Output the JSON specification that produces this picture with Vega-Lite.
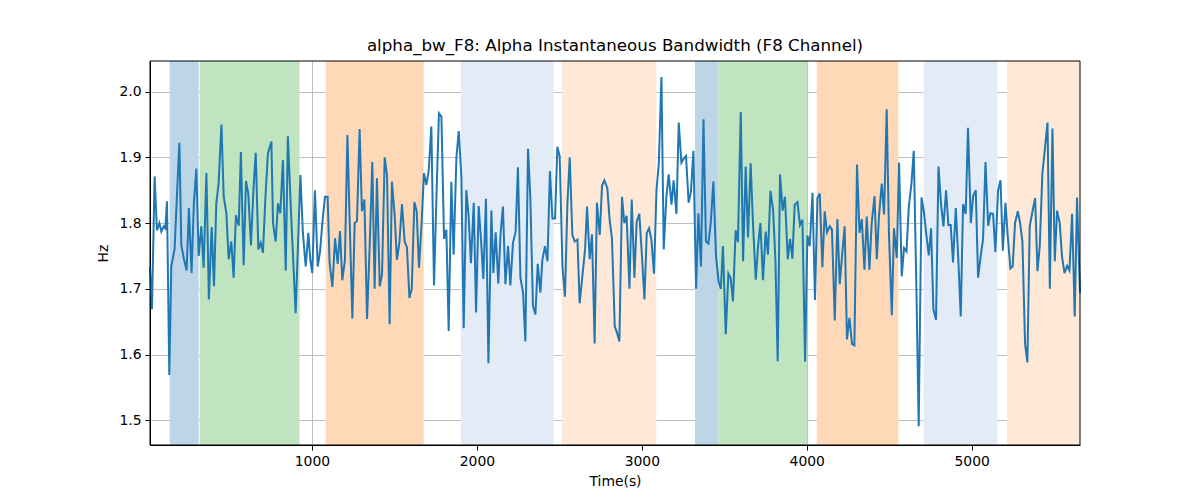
{
  "$schema": "https://vega.github.io/schema/vega-lite/v6.json",
  "autosize": "none",
  "width": 930,
  "height": 384,
  "padding": {"left": 150, "top": 61, "right": 120, "bottom": 55},
  "background": "white",
  "title": {"text": "alpha_bw_F8: Alpha Instantaneous Bandwidth (F8 Channel)", "font": "DejaVu Sans", "fontSize": 16.7, "fontWeight": "normal", "color": "black", "anchor": "middle", "baseline": "alphabetic", "offset": -7},
  "config": {
    "view": {"stroke": null},
    "axis": {"zindex": 1, "grid": true, "gridColor": "#b0b0b0", "gridWidth": 0.8, "tickSize": 5, "tickColor": "black", "domainColor": "black", "labelFont": "DejaVu Sans", "labelFontSize": 13.9, "labelColor": "black", "labelPadding": 4, "titleFont": "DejaVu Sans", "titleFontSize": 13.9, "titleFontWeight": "normal", "titleColor": "black"}
  },
  "datasets": {
    "bands": [
      {"start": 137, "end": 313, "kind": "blue"},
      {"start": 319, "end": 925, "kind": "green"},
      {"start": 1083, "end": 1677, "kind": "orange"},
      {"start": 1902, "end": 2466, "kind": "lightblue"},
      {"start": 2514, "end": 3088, "kind": "lightorange"},
      {"start": 3323, "end": 3465, "kind": "blue"},
      {"start": 3465, "end": 4002, "kind": "green"},
      {"start": 4061, "end": 4556, "kind": "orange"},
      {"start": 4709, "end": 5156, "kind": "lightblue"},
      {"start": 5215, "end": 5657, "kind": "lightorange"}
    ],
    "series": [
      {"time":18,"hz":1.734},{"time":30,"hz":1.669},{"time":46,"hz":1.871},{"time":60,"hz":1.789},{"time":75,"hz":1.80},{"time":87,"hz":1.787},{"time":101,"hz":1.795},{"time":111,"hz":1.792},{"time":121,"hz":1.833},{"time":135,"hz":1.569},{"time":147,"hz":1.734},{"time":167,"hz":1.760},{"time":181,"hz":1.84},{"time":196,"hz":1.922},{"time":208,"hz":1.766},{"time":224,"hz":1.745},{"time":240,"hz":1.728},{"time":254,"hz":1.823},{"time":270,"hz":1.724},{"time":284,"hz":1.83},{"time":299,"hz":1.883},{"time":313,"hz":1.75},{"time":329,"hz":1.795},{"time":343,"hz":1.732},{"time":360,"hz":1.876},{"time":375,"hz":1.684},{"time":392,"hz":1.794},{"time":406,"hz":1.704},{"time":420,"hz":1.83},{"time":434,"hz":1.86},{"time":451,"hz":1.95},{"time":465,"hz":1.84},{"time":481,"hz":1.815},{"time":495,"hz":1.745},{"time":511,"hz":1.772},{"time":525,"hz":1.717},{"time":539,"hz":1.812},{"time":556,"hz":1.796},{"time":569,"hz":1.908},{"time":586,"hz":1.736},{"time":600,"hz":1.864},{"time":614,"hz":1.845},{"time":630,"hz":1.766},{"time":645,"hz":1.85},{"time":659,"hz":1.907},{"time":675,"hz":1.76},{"time":689,"hz":1.77},{"time":703,"hz":1.755},{"time":718,"hz":1.84},{"time":733,"hz":1.906},{"time":754,"hz":1.924},{"time":764,"hz":1.80},{"time":780,"hz":1.772},{"time":794,"hz":1.83},{"time":808,"hz":1.815},{"time":824,"hz":1.896},{"time":841,"hz":1.728},{"time":854,"hz":1.932},{"time":875,"hz":1.805},{"time":901,"hz":1.663},{"time":930,"hz":1.873},{"time":945,"hz":1.785},{"time":962,"hz":1.734},{"time":978,"hz":1.785},{"time":990,"hz":1.744},{"time":1002,"hz":1.724},{"time":1018,"hz":1.85},{"time":1035,"hz":1.734},{"time":1049,"hz":1.757},{"time":1063,"hz":1.80},{"time":1079,"hz":1.84},{"time":1095,"hz":1.84},{"time":1107,"hz":1.739},{"time":1124,"hz":1.703},{"time":1140,"hz":1.777},{"time":1156,"hz":1.738},{"time":1170,"hz":1.788},{"time":1184,"hz":1.713},{"time":1200,"hz":1.744},{"time":1215,"hz":1.934},{"time":1229,"hz":1.80},{"time":1245,"hz":1.655},{"time":1259,"hz":1.80},{"time":1273,"hz":1.803},{"time":1289,"hz":1.943},{"time":1303,"hz":1.818},{"time":1318,"hz":1.836},{"time":1334,"hz":1.654},{"time":1350,"hz":1.765},{"time":1366,"hz":1.893},{"time":1380,"hz":1.70},{"time":1394,"hz":1.868},{"time":1411,"hz":1.704},{"time":1425,"hz":1.722},{"time":1441,"hz":1.90},{"time":1455,"hz":1.873},{"time":1471,"hz":1.646},{"time":1485,"hz":1.863},{"time":1502,"hz":1.81},{"time":1515,"hz":1.744},{"time":1530,"hz":1.77},{"time":1546,"hz":1.829},{"time":1562,"hz":1.772},{"time":1576,"hz":1.763},{"time":1591,"hz":1.686},{"time":1605,"hz":1.70},{"time":1621,"hz":1.832},{"time":1635,"hz":1.818},{"time":1649,"hz":1.732},{"time":1665,"hz":1.80},{"time":1679,"hz":1.876},{"time":1694,"hz":1.858},{"time":1708,"hz":1.88},{"time":1724,"hz":1.947},{"time":1740,"hz":1.705},{"time":1756,"hz":1.85},{"time":1770,"hz":1.967},{"time":1785,"hz":1.962},{"time":1801,"hz":1.776},{"time":1815,"hz":1.79},{"time":1829,"hz":1.636},{"time":1845,"hz":1.863},{"time":1859,"hz":1.752},{"time":1876,"hz":1.90},{"time":1890,"hz":1.94},{"time":1906,"hz":1.87},{"time":1920,"hz":1.64},{"time":1936,"hz":1.85},{"time":1950,"hz":1.81},{"time":1964,"hz":1.739},{"time":1981,"hz":1.831},{"time":1995,"hz":1.664},{"time":2011,"hz":1.826},{"time":2025,"hz":1.775},{"time":2039,"hz":1.715},{"time":2055,"hz":1.837},{"time":2070,"hz":1.587},{"time":2088,"hz":1.819},{"time":2100,"hz":1.724},{"time":2114,"hz":1.786},{"time":2130,"hz":1.708},{"time":2144,"hz":1.785},{"time":2158,"hz":1.825},{"time":2173,"hz":1.707},{"time":2189,"hz":1.765},{"time":2203,"hz":1.705},{"time":2219,"hz":1.77},{"time":2235,"hz":1.787},{"time":2249,"hz":1.885},{"time":2264,"hz":1.717},{"time":2280,"hz":1.694},{"time":2294,"hz":1.62},{"time":2310,"hz":1.913},{"time":2324,"hz":1.84},{"time":2340,"hz":1.674},{"time":2355,"hz":1.661},{"time":2369,"hz":1.738},{"time":2385,"hz":1.694},{"time":2397,"hz":1.744},{"time":2413,"hz":1.765},{"time":2428,"hz":1.742},{"time":2443,"hz":1.879},{"time":2458,"hz":1.807},{"time":2474,"hz":1.807},{"time":2488,"hz":1.916},{"time":2502,"hz":1.902},{"time":2519,"hz":1.734},{"time":2534,"hz":1.688},{"time":2549,"hz":1.83},{"time":2563,"hz":1.90},{"time":2579,"hz":1.782},{"time":2593,"hz":1.772},{"time":2610,"hz":1.775},{"time":2623,"hz":1.678},{"time":2640,"hz":1.72},{"time":2656,"hz":1.76},{"time":2668,"hz":1.825},{"time":2684,"hz":1.745},{"time":2698,"hz":1.783},{"time":2714,"hz":1.617},{"time":2728,"hz":1.831},{"time":2745,"hz":1.782},{"time":2759,"hz":1.857},{"time":2773,"hz":1.865},{"time":2791,"hz":1.853},{"time":2805,"hz":1.805},{"time":2819,"hz":1.777},{"time":2836,"hz":1.643},{"time":2850,"hz":1.633},{"time":2864,"hz":1.62},{"time":2880,"hz":1.84},{"time":2894,"hz":1.80},{"time":2908,"hz":1.811},{"time":2925,"hz":1.70},{"time":2939,"hz":1.836},{"time":2955,"hz":1.717},{"time":2969,"hz":1.802},{"time":2985,"hz":1.814},{"time":3001,"hz":1.75},{"time":3016,"hz":1.684},{"time":3030,"hz":1.785},{"time":3044,"hz":1.792},{"time":3058,"hz":1.775},{"time":3074,"hz":1.723},{"time":3089,"hz":1.85},{"time":3103,"hz":1.89},{"time":3119,"hz":2.022},{"time":3133,"hz":1.76},{"time":3149,"hz":1.84},{"time":3163,"hz":1.874},{"time":3180,"hz":1.828},{"time":3193,"hz":1.865},{"time":3210,"hz":1.814},{"time":3224,"hz":1.953},{"time":3240,"hz":1.892},{"time":3254,"hz":1.898},{"time":3268,"hz":1.902},{"time":3284,"hz":1.831},{"time":3298,"hz":1.848},{"time":3313,"hz":1.91},{"time":3329,"hz":1.70},{"time":3343,"hz":1.815},{"time":3359,"hz":1.734},{"time":3374,"hz":1.958},{"time":3389,"hz":1.772},{"time":3404,"hz":1.769},{"time":3418,"hz":1.80},{"time":3434,"hz":1.863},{"time":3450,"hz":1.75},{"time":3465,"hz":1.712},{"time":3479,"hz":1.70},{"time":3492,"hz":1.765},{"time":3509,"hz":1.631},{"time":3525,"hz":1.723},{"time":3539,"hz":1.716},{"time":3553,"hz":1.681},{"time":3569,"hz":1.789},{"time":3583,"hz":1.771},{"time":3600,"hz":1.969},{"time":3614,"hz":1.742},{"time":3630,"hz":1.886},{"time":3644,"hz":1.778},{"time":3660,"hz":1.891},{"time":3674,"hz":1.80},{"time":3691,"hz":1.714},{"time":3705,"hz":1.765},{"time":3719,"hz":1.80},{"time":3735,"hz":1.713},{"time":3751,"hz":1.787},{"time":3765,"hz":1.752},{"time":3780,"hz":1.849},{"time":3796,"hz":1.82},{"time":3810,"hz":1.745},{"time":3824,"hz":1.59},{"time":3838,"hz":1.874},{"time":3854,"hz":1.819},{"time":3868,"hz":1.84},{"time":3885,"hz":1.745},{"time":3899,"hz":1.776},{"time":3913,"hz":1.746},{"time":3927,"hz":1.828},{"time":3944,"hz":1.832},{"time":3959,"hz":1.797},{"time":3974,"hz":1.805},{"time":3990,"hz":1.589},{"time":4004,"hz":1.781},{"time":4018,"hz":1.765},{"time":4035,"hz":1.846},{"time":4050,"hz":1.683},{"time":4065,"hz":1.838},{"time":4079,"hz":1.845},{"time":4095,"hz":1.733},{"time":4109,"hz":1.818},{"time":4123,"hz":1.786},{"time":4140,"hz":1.795},{"time":4153,"hz":1.79},{"time":4170,"hz":1.652},{"time":4186,"hz":1.806},{"time":4200,"hz":1.707},{"time":4214,"hz":1.75},{"time":4230,"hz":1.795},{"time":4244,"hz":1.623},{"time":4259,"hz":1.656},{"time":4275,"hz":1.616},{"time":4289,"hz":1.614},{"time":4305,"hz":1.889},{"time":4320,"hz":1.785},{"time":4334,"hz":1.806},{"time":4350,"hz":1.729},{"time":4364,"hz":1.81},{"time":4380,"hz":1.729},{"time":4394,"hz":1.80},{"time":4411,"hz":1.841},{"time":4425,"hz":1.745},{"time":4438,"hz":1.81},{"time":4455,"hz":1.86},{"time":4469,"hz":1.813},{"time":4485,"hz":1.973},{"time":4499,"hz":1.78},{"time":4516,"hz":1.66},{"time":4529,"hz":1.792},{"time":4546,"hz":1.747},{"time":4560,"hz":1.892},{"time":4576,"hz":1.719},{"time":4590,"hz":1.762},{"time":4605,"hz":1.757},{"time":4619,"hz":1.825},{"time":4635,"hz":1.86},{"time":4649,"hz":1.91},{"time":4665,"hz":1.70},{"time":4679,"hz":1.491},{"time":4696,"hz":1.839},{"time":4710,"hz":1.818},{"time":4724,"hz":1.785},{"time":4740,"hz":1.751},{"time":4754,"hz":1.792},{"time":4768,"hz":1.669},{"time":4784,"hz":1.653},{"time":4799,"hz":1.886},{"time":4814,"hz":1.83},{"time":4829,"hz":1.795},{"time":4845,"hz":1.85},{"time":4859,"hz":1.797},{"time":4873,"hz":1.797},{"time":4887,"hz":1.74},{"time":4904,"hz":1.823},{"time":4920,"hz":1.74},{"time":4934,"hz":1.658},{"time":4948,"hz":1.829},{"time":4964,"hz":1.814},{"time":4978,"hz":1.945},{"time":4995,"hz":1.80},{"time":5009,"hz":1.841},{"time":5025,"hz":1.85},{"time":5039,"hz":1.717},{"time":5055,"hz":1.75},{"time":5069,"hz":1.775},{"time":5084,"hz":1.893},{"time":5100,"hz":1.796},{"time":5114,"hz":1.815},{"time":5130,"hz":1.814},{"time":5144,"hz":1.756},{"time":5160,"hz":1.849},{"time":5175,"hz":1.865},{"time":5189,"hz":1.758},{"time":5205,"hz":1.831},{"time":5219,"hz":1.78},{"time":5235,"hz":1.731},{"time":5249,"hz":1.734},{"time":5263,"hz":1.80},{"time":5280,"hz":1.818},{"time":5294,"hz":1.80},{"time":5308,"hz":1.771},{"time":5324,"hz":1.616},{"time":5338,"hz":1.588},{"time":5352,"hz":1.795},{"time":5369,"hz":1.818},{"time":5385,"hz":1.838},{"time":5399,"hz":1.727},{"time":5413,"hz":1.765},{"time":5429,"hz":1.876},{"time":5443,"hz":1.91},{"time":5460,"hz":1.953},{"time":5474,"hz":1.70},{"time":5490,"hz":1.944},{"time":5504,"hz":1.742},{"time":5518,"hz":1.819},{"time":5534,"hz":1.80},{"time":5548,"hz":1.749},{"time":5563,"hz":1.724},{"time":5579,"hz":1.735},{"time":5593,"hz":1.728},{"time":5609,"hz":1.814},{"time":5625,"hz":1.658},{"time":5639,"hz":1.839},{"time":5657,"hz":1.694}
    ]
  },
  "layer": [
    {
      "data": {"name": "bands"},
      "mark": {"type": "rect", "opacity": 1},
      "encoding": {
        "x": {"field": "start", "type": "quantitative", "scale": {"domain": [18, 5657], "nice": false, "zero": false},
              "axis": {"values": [1000, 2000, 3000, 4000, 5000], "title": "Time(s)", "titlePadding": 7, "format": "d"}},
        "x2": {"field": "end"},
        "color": {"field": "kind", "type": "nominal", "legend": null,
                  "scale": {"domain": ["blue", "green", "orange", "lightblue", "lightorange"], "range": ["#bcd6e8", "#c0e3c0", "#ffd9b7", "#e3ebf6", "#ffe9d6"]}}
      }
    },
    {
      "data": {"name": "series"},
      "mark": {"type": "line", "color": "#1f77b4", "strokeWidth": 2},
      "encoding": {
        "x": {"field": "time", "type": "quantitative"},
        "y": {"field": "hz", "type": "quantitative", "scale": {"domain": [1.4625, 2.0465], "nice": false, "zero": false},
              "axis": {"values": [1.5, 1.6, 1.7, 1.8, 1.9, 2.0], "format": ".1f", "title": "Hz", "titlePadding": 8}}
      }
    },
    {
      "data": {"values": [{}]},
      "mark": {"type": "rect", "filled": false, "color": "black", "strokeWidth": 1},
      "encoding": {}
    }
  ]
}
